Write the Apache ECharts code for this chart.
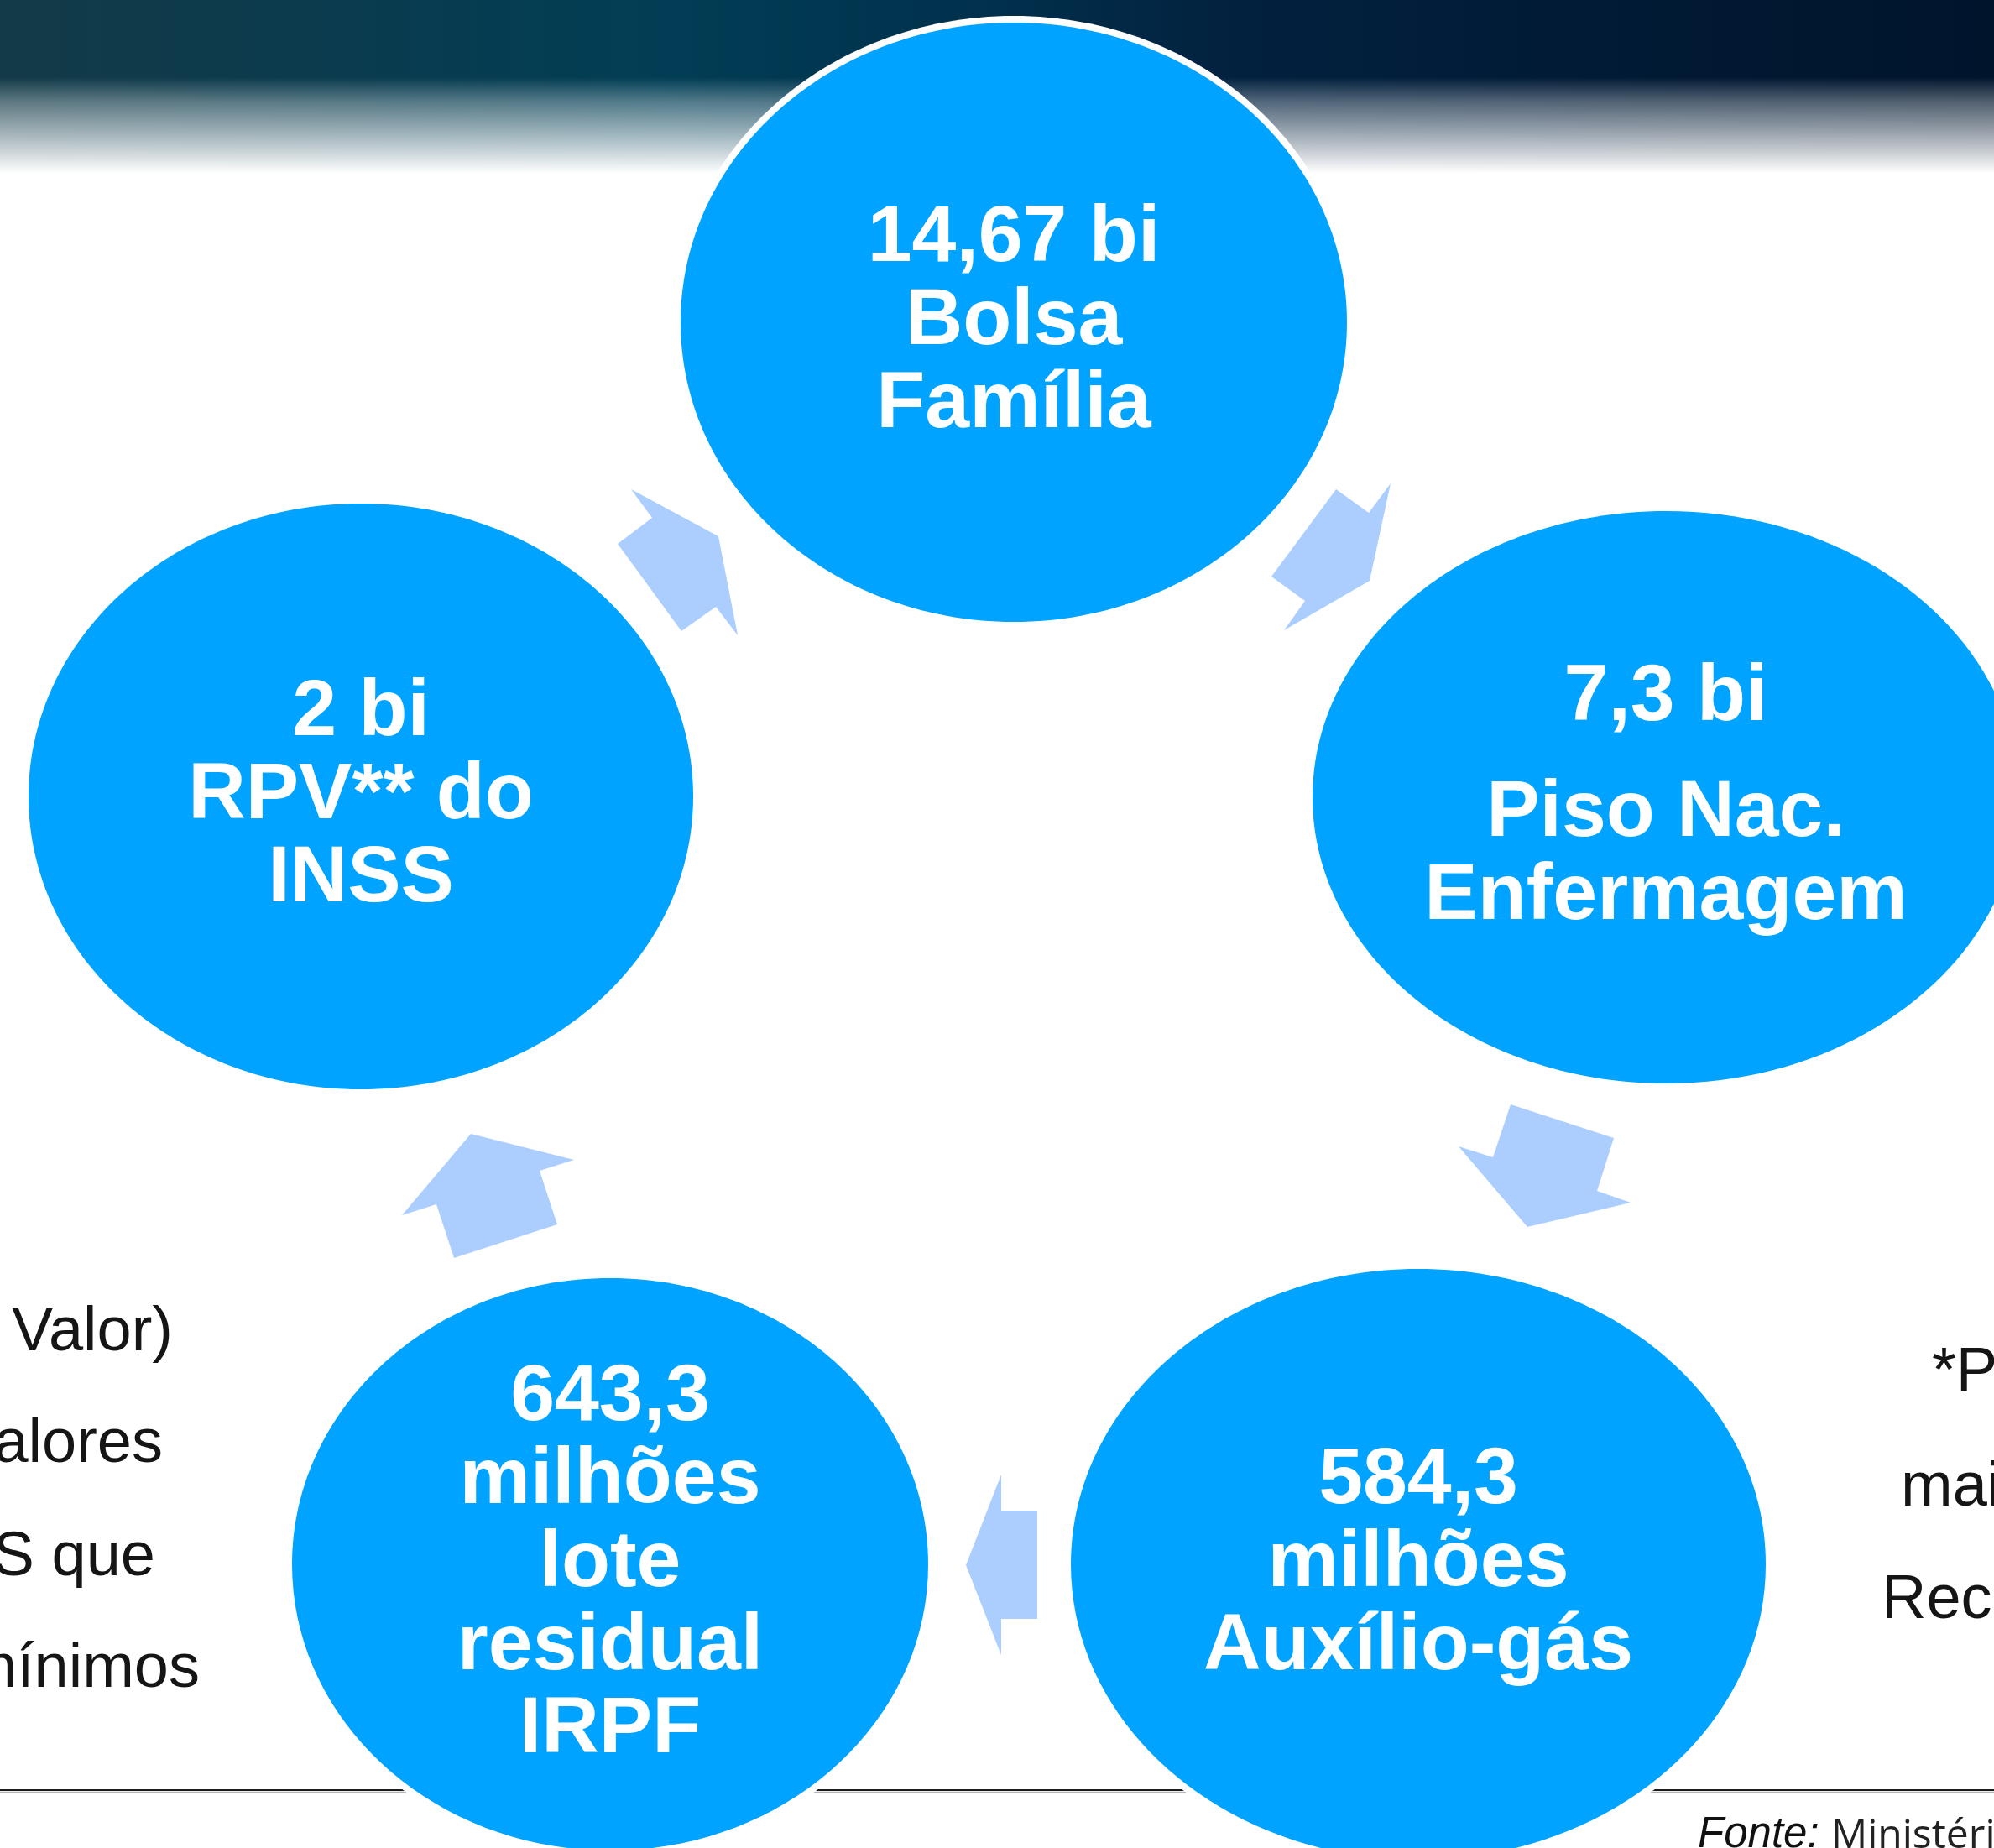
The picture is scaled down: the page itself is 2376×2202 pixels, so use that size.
<!DOCTYPE html>
<html>
<head>
<meta charset="utf-8">
<script src="https://cdn.jsdelivr.net/npm/echarts@6/dist/echarts.min.js"></script>
<style>
  html, body { margin: 0; padding: 0; background: #fff; }
  #chart { width: 2376px; height: 2202px; }
</style>
</head>
<body>
<div id="chart"></div>
<script>
var pageW = 2376;
var pageH = 2202;

// stages of the cycle: centre and radii in page units
var stageNames = ['Bolsa Família', 'Piso Enfermagem', 'Auxílio-gás', 'IRPF', 'RPV INSS'];
var stageCx = [1208, 1985, 1690, 727, 430];
var stageCy = [384, 950, 1864, 1864, 949];
var stageRx = [397, 421, 414, 379, 396];
var stageRy = [357, 341, 352, 341, 349];
var stageLines = [
  ['14,67 bi', 'Bolsa', 'Família'],
  ['7,3 bi', '', 'Piso Nac.', 'Enfermagem'],
  ['584,3', 'milhões', 'Auxílio-gás'],
  ['643,3', 'milhões', 'lote', 'residual', 'IRPF'],
  ['2 bi', 'RPV** do', 'INSS']
];

// block arrows between the stages (outline points)
var arrowBolsaPiso = [[1592, 583], [1631, 611], [1657, 576], [1632, 692], [1530, 751], [1555, 716], [1515, 687]];
var arrowPisoGas = [[1800, 1316], [1923, 1356], [1903, 1419], [1943, 1433], [1820, 1462], [1738, 1366], [1779, 1379]];
var arrowGasIrpf = [[1193, 1757], [1193, 1800], [1236, 1800], [1236, 1929], [1193, 1929], [1193, 1972], [1151, 1865]];
var arrowIrpfInss = [[561, 1351], [684, 1382], [643, 1395], [664, 1459], [541, 1499], [520, 1435], [479, 1448]];
var arrowInssBolsa = [[752, 583], [856, 639], [879, 757], [853, 723], [812, 752], [736, 648], [777, 617]];
var arrows = [arrowBolsaPiso, arrowPisoGas, arrowGasIrpf, arrowIrpfInss, arrowInssBolsa];

// notes cut at the page edges
var leftNotes = ['Pequeno Valor)', 'valores', 'INSS que', 'mínimos'];
var rightNotes = ['*Pagamentos', 'mais', 'Recursos'];

var blue = '#00A3FF';
var arrowBlue = '#ABCEFF';
var ink = '#151515';
var lineH = 99;
var gapH = 39;

var chart = echarts.init(document.getElementById('chart'), null, { renderer: 'canvas' });

function renderStage(params, api) {
  var i = params.dataIndex;
  var c = api.coord([api.value(0), api.value(1)]);
  var s = api.size([api.value(2), api.value(3)]);
  var children = [
    { type: 'ellipse', shape: { cx: c[0], cy: c[1], rx: s[0] + 8, ry: s[1] + 8 }, style: { fill: '#fff' } },
    { type: 'ellipse', shape: { cx: c[0], cy: c[1], rx: s[0], ry: s[1] }, style: { fill: blue } }
  ];
  var lines = stageLines[i];
  var total = 0;
  lines.forEach(function(t) { total += t === '' ? gapH : lineH; });
  var y = c[1] - total / 2;
  lines.forEach(function(t) {
    var h = t === '' ? gapH : lineH;
    if (t !== '') {
      children.push({
        type: 'text',
        x: c[0],
        y: y + h / 2,
        style: {
          text: t,
          fill: '#fff',
          fontSize: 95,
          fontWeight: 'bold',
          fontFamily: 'Liberation Sans, Arial, sans-serif',
          align: 'center',
          verticalAlign: 'middle'
        }
      });
    }
    y += h;
  });
  return { type: 'group', children: children };
}

function renderArrow(params, api) {
  var pts = arrows[params.dataIndex].map(function(p) { return api.coord(p); });
  return { type: 'polygon', shape: { points: pts }, style: { fill: arrowBlue } };
}

var graphics = [
  {
    type: 'rect', z: 0,
    shape: { x: 0, y: 0, width: pageW, height: 210 },
    style: {
      fill: new echarts.graphic.LinearGradient(0, 0, 1, 0, [
        { offset: 0, color: '#133a48' },
        { offset: 0.18, color: '#0a3b4e' },
        { offset: 0.33, color: '#013e55' },
        { offset: 0.5, color: '#01304c' },
        { offset: 0.62, color: '#02213f' },
        { offset: 0.8, color: '#011a35' },
        { offset: 1, color: '#00152c' }
      ])
    }
  },
  {
    type: 'rect', z: 0,
    shape: { x: 0, y: 92, width: pageW, height: 118 },
    style: {
      fill: new echarts.graphic.LinearGradient(0, 0, 0, 1, [
        { offset: 0, color: 'rgba(255,255,255,0)' },
        { offset: 0.25, color: 'rgba(255,255,255,0.32)' },
        { offset: 0.5, color: 'rgba(255,255,255,0.55)' },
        { offset: 0.75, color: 'rgba(255,255,255,0.78)' },
        { offset: 0.97, color: 'rgba(255,255,255,1)' },
        { offset: 1, color: '#fff' }
      ])
    }
  },
  {
    type: 'line', z: 0,
    shape: { x1: 0, y1: 2133, x2: pageW, y2: 2133 },
    style: { stroke: '#1c1c1c', lineWidth: 2 }
  },
  {
    type: 'line', z: 0,
    shape: { x1: 0, y1: 2135.5, x2: pageW, y2: 2135.5 },
    style: { stroke: '#b5b5b5', lineWidth: 1.5 }
  },
  {
    type: 'text', z: 1, x: 2023, y: 2212,
    style: { text: 'Fonte:', fill: '#111', fontSize: 51, fontStyle: 'italic', fontFamily: 'Liberation Sans, Arial, sans-serif', align: 'left', verticalAlign: 'bottom' }
  },
  {
    type: 'text', z: 1, x: 2182, y: 2212,
    style: { text: 'Ministério da Economia', fill: '#222', fontSize: 48, fontFamily: 'Open Sans, Noto Sans, sans-serif', align: 'left', verticalAlign: 'bottom' }
  }
];

// visual centre of each note line
var leftRight = [206, 194, 185, 238];
var leftMid = [1589, 1722, 1857, 1990];
leftNotes.forEach(function(t, i) {
  graphics.push({
    type: 'text', z: 1, x: leftRight[i], y: leftMid[i],
    style: { text: t, fill: ink, fontSize: 74, fontFamily: 'Liberation Sans, Arial, sans-serif', align: 'right', verticalAlign: 'middle' }
  });
});
var rightLeft = [2302, 2265, 2242];
var rightMid = [1637, 1774, 1908];
rightNotes.forEach(function(t, i) {
  graphics.push({
    type: 'text', z: 1, x: rightLeft[i], y: rightMid[i],
    style: { text: t, fill: ink, fontSize: 74, fontFamily: 'Liberation Sans, Arial, sans-serif', align: 'left', verticalAlign: 'middle' }
  });
});

chart.setOption({
  animation: false,
  backgroundColor: '#fff',
  grid: { left: 0, right: 0, top: 0, bottom: 0, containLabel: false },
  xAxis: { type: 'value', min: 0, max: pageW, show: false },
  yAxis: { type: 'value', min: 0, max: pageH, inverse: true, show: false },
  graphic: graphics,
  series: [
    {
      type: 'custom',
      name: 'setas',
      z: 2,
      silent: true,
      renderItem: renderArrow,
      data: arrows.map(function(a, i) { return [a[0][0], a[0][1], i]; }),
      encode: { x: 0, y: 1 }
    },
    {
      type: 'custom',
      name: 'etapas',
      z: 3,
      silent: true,
      renderItem: renderStage,
      data: stageNames.map(function(n, i) {
        return { name: n, value: [stageCx[i], stageCy[i], stageRx[i], stageRy[i]] };
      }),
      encode: { x: 0, y: 1 }
    }
  ]
});
window.addEventListener('resize', function() { chart.resize(); });
</script>
</body>
</html>
